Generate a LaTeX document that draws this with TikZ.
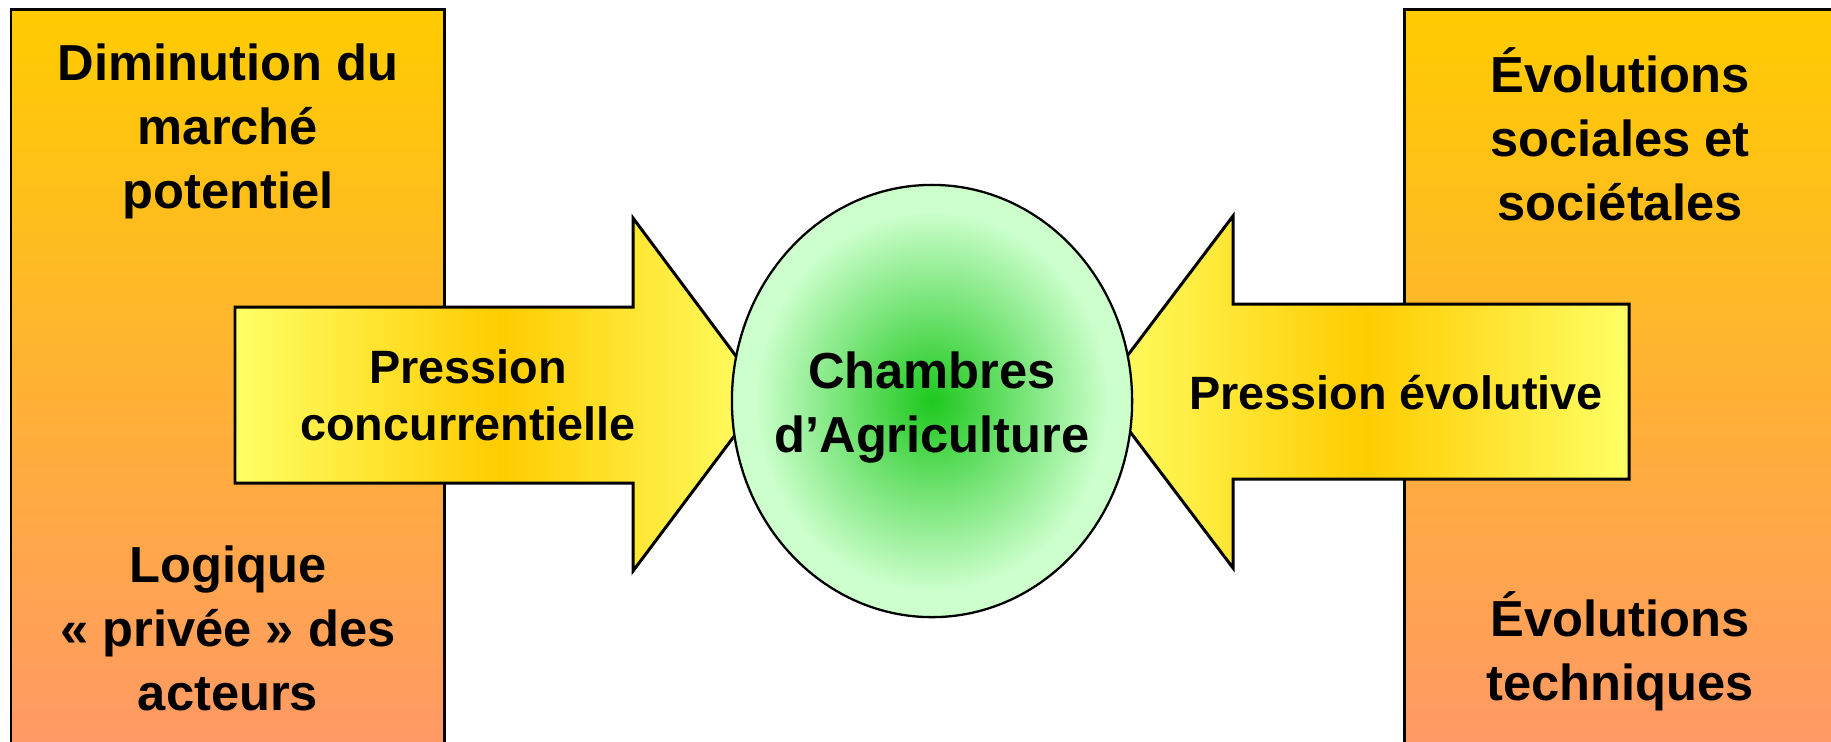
\documentclass[tikz,border=0pt]{standalone}
\usepackage{fontspec}
\setmainfont{Liberation Sans}

\definecolor{boxtop}{RGB}{255,204,0}
\definecolor{boxbottom}{RGB}{255,153,102}
\definecolor{arrowlight}{RGB}{255,255,102}
\definecolor{arrowgold}{RGB}{255,204,0}
\definecolor{glowcore}{RGB}{30,200,30}
\definecolor{glowrim}{RGB}{204,255,204}

\pgfdeclareradialshading{chamberglow}{\pgfpoint{0bp}{0bp}}{color(0bp)=(glowcore); color(22bp)=(glowrim); color(50bp)=(glowrim)}

\begin{document}
\begin{tikzpicture}[x=0.01cm, y=-0.01cm, line join=miter,
  boxtext/.style={font=\fontsize{14.4}{18.2}\selectfont\bfseries, align=center, anchor=base},
  arrowtext/.style={font=\fontsize{13.3}{16.2}\selectfont\bfseries, align=center, anchor=base},
  sidebox/.style={draw=black, line width=0.85pt, top color=boxtop, bottom color=boxbottom},
  pressure/.style={draw=black, line width=0.85pt, left color=arrowlight, right color=arrowlight, middle color=arrowgold}]

  \useasboundingbox (0,0) rectangle (1831,741);

  % draw side boxes
  \draw[sidebox] (11,9) rectangle (444,745);
  \draw[sidebox] (1404,9) rectangle (1836,745);

  % box labels (anchored at the last baseline)
  \node[boxtext] (marche) at (228,208) {Diminution du\\marché\\potentiel};
  \node[boxtext] (logique) at (228,710) {Logique\\« privée » des\\acteurs};
  \node[boxtext] (sociales) at (1620,220) {Évolutions\\sociales et\\sociétales};
  \node[boxtext] (techniques) at (1620,700) {Évolutions\\techniques};

  % arrow properties
  \def\headleft{633}  % head base, left arrow
  \def\headright{1233}  % head base, right arrow

  % draw the arrows
  \draw[pressure] (235,307) -- (\headleft,307) -- (\headleft,218) -- (765,395)
    -- (\headleft,571) -- (\headleft,483) -- (235,483) -- cycle;
  \draw[pressure] (1629,304) -- (\headright,304) -- (\headright,216) -- (1100,392)
    -- (\headright,568) -- (\headright,479) -- (1629,479) -- cycle;

  % arrow labels
  \node[arrowtext] (concurrence) at (468,440) {Pression\\concurrentielle};
  \node[arrowtext] (evolution) at (1396,409) {Pression évolutive};

  % centre
  \shadedraw[line width=0.65pt, shading=chamberglow] (932,401) ellipse [x radius=2cm, y radius=2.16cm];
  \node[boxtext] (chambres) at (932,452) {Chambres\\d’Agriculture};

\end{tikzpicture}
\end{document}
